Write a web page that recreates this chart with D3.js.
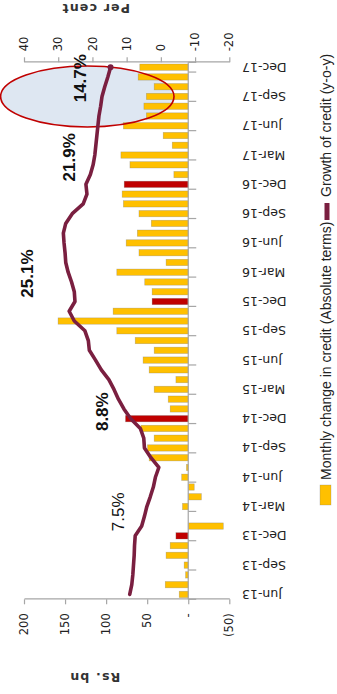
<!DOCTYPE html>
<html><head><meta charset="utf-8">
<script src="https://cdn.jsdelivr.net/npm/d3@7/dist/d3.min.js"></script>
<style>
html,body{margin:0;padding:0;background:#fff}
svg{display:block}
</style></head><body>
<svg id="chart" width="337" height="694"></svg>
<script>
// ---------- data ----------
const months = ["Jun-13","Jul-13","Aug-13","Sep-13","Oct-13","Nov-13","Dec-13",
  "Jan-14","Feb-14","Mar-14","Apr-14","May-14","Jun-14","Jul-14","Aug-14","Sep-14","Oct-14","Nov-14","Dec-14",
  "Jan-15","Feb-15","Mar-15","Apr-15","May-15","Jun-15","Jul-15","Aug-15","Sep-15","Oct-15","Nov-15","Dec-15",
  "Jan-16","Feb-16","Mar-16","Apr-16","May-16","Jun-16","Jul-16","Aug-16","Sep-16","Oct-16","Nov-16","Dec-16",
  "Jan-17","Feb-17","Mar-17","Apr-17","May-17","Jun-17","Jul-17","Aug-17","Sep-17","Oct-17","Nov-17","Dec-17"];
// Monthly change in credit (Rs. bn)
const monthlyChange = [11,28,3.3,5,27,22,15,
  -42.7,0,7,-16,-7.3,8,2.2,47.6,49.6,41.5,57.5,76.4,
  22,24.4,41.5,15,47.6,55,41.5,64.6,87,158.5,91.5,44,
  44,53,87,27,60,75.6,62,45,60,79,80.5,78,
  17.5,71,82,19.5,30.5,79,51,54,51,41.5,61,59];
// Growth of credit, y-o-y (%)
const growth = [9.1,8.5,8.2,8.0,7.8,7.7,7.5,
  5.6,4.8,4.1,3.1,2.2,1.6,0.6,2.9,4.8,5.0,6.0,8.8,
  10.8,12.4,13.7,15.2,17.4,19.1,20.9,21.2,22.2,25.3,26.8,25.1,
  25.3,26.1,27.1,27.8,28.0,28.3,28.5,27.8,25.9,22.7,21.6,21.9,
  20.6,19.8,19.3,19.0,18.7,18.4,18.1,17.6,17.2,16.4,15.5,14.7];
const highlightMonths = ["Dec-13","Dec-14","Dec-15","Dec-16"];
const leftTicks = [-50,0,50,100,150,200];
const leftTickLabels = ["(50)","-","50","100","150","200"];
const rightTicks = [-20,-10,0,10,20,30,40];
const rightTickLabels = ["-20","-10","0","10","20","30","40"];
const callouts = [
  {month:"Dec-13", value:7.5,  text:"7.5%",  bold:false, dx:24, dy:-17},
  {month:"Dec-14", value:8.8,  text:"8.8%",  bold:true,  dx:7,  dy:-29},
  {month:"Dec-15", value:25.1, text:"25.1%", bold:true,  dx:28, dy:-48},
  {month:"Dec-16", value:21.9, text:"21.9%", bold:true,  dx:27, dy:-17},
  {month:"Dec-17", value:14.7, text:"14.7%", bold:true,  dx:-11,dy:-31}
];
const legendItems = ["Monthly change in credit (Absolute terms)","Growth of credit (y-o-y)"];

// ---------- layout (chart drawn in landscape frame, then rotated) ----------
const W = 694, H = 337;
const x0 = 94.7, x1 = 631.7, yTop = 24, yBot = 229.3;
const YELLOW = "#FFC000", RED = "#C00000", MAROON = "#7A1F40", AXIS = "#A6A6A6";
const tickFont = "'DejaVu Sans', Verdana, sans-serif";
const narrowFont = "'Liberation Sans Narrow','Arial Narrow','Liberation Sans',sans-serif";

const svg = d3.select("#chart");
const g = svg.append("g").attr("transform", `translate(0,${W}) rotate(-90)`);

const x = d3.scaleBand().domain(months).range([x0, x1]).paddingInner(0.35).paddingOuter(0.175);
const yL = d3.scaleLinear().domain([-50, 200]).range([yBot, yTop]);
const yR = d3.scaleLinear().domain([-20, 40]).range([yBot, yTop]);
const bw = x.bandwidth();
const cx = m => x(m) + bw / 2;

// ellipse highlight (fill behind)
const eCx = cx("Sep-17"), eCy = yR(21.5), eRx = 30.5, eRy = 86.7;
g.append("ellipse").attr("cx", eCx).attr("cy", eCy).attr("rx", eRx).attr("ry", eRy)
  .attr("fill", "#DEE7F2");

// bars
g.append("g").selectAll("rect").data(months).join("rect")
  .attr("x", m => x(m))
  .attr("width", bw)
  .attr("y", (m, i) => yL(Math.max(0, monthlyChange[i])))
  .attr("height", (m, i) => Math.abs(yL(monthlyChange[i]) - yL(0)))
  .attr("fill", m => highlightMonths.includes(m) ? RED : YELLOW)
  .attr("stroke", "rgba(120,120,120,0.45)").attr("stroke-width", 0.6);

// ellipse outline (over bars)
g.append("ellipse").attr("cx", eCx).attr("cy", eCy).attr("rx", eRx).attr("ry", eRy)
  .attr("fill", "none").attr("stroke", RED).attr("stroke-width", 1.6);

// category axis at zero
const catY = yL(0);
const ca = g.append("g");
ca.append("line").attr("x1", x0).attr("x2", x1).attr("y1", catY).attr("y2", catY)
  .attr("stroke", AXIS).attr("stroke-width", 1.2);
const boundaries = d3.range(0, months.length + 1, 3).concat([months.length]);
ca.selectAll("line.t").data(boundaries).join("line").attr("class", "t")
  .attr("x1", b => x0 + b * x.step()).attr("x2", b => x0 + b * x.step())
  .attr("y1", catY).attr("y2", catY + 8).attr("stroke", AXIS).attr("stroke-width", 1.2);
ca.selectAll("text").data(months.filter((m, i) => i % 3 === 0)).join("text")
  .attr("transform", m => `translate(${cx(m)},242) rotate(-90)`)
  .attr("text-anchor", "end").attr("dy", "0.36em")
  .attr("font-family", tickFont).attr("font-size", 12.5).attr("fill", "#222")
  .text(m => m);

// left axis
const la = g.append("g").attr("transform", `translate(${x0},0)`)
  .call(d3.axisLeft(yL).tickValues(leftTicks).tickSize(5).tickSizeOuter(0).tickPadding(9)
    .tickFormat(v => leftTickLabels[leftTicks.indexOf(v)]));
la.select(".domain").attr("stroke", AXIS).attr("stroke-width", 1.2);
la.selectAll(".tick line").attr("stroke", AXIS).attr("stroke-width", 1.2);
la.selectAll(".tick text").attr("font-family", tickFont).attr("font-size", 11.5).attr("fill", "#222");

// right axis
const ra = g.append("g").attr("transform", `translate(${x1},0)`)
  .call(d3.axisRight(yR).tickValues(rightTicks).tickSize(5).tickSizeOuter(0).tickPadding(6)
    .tickFormat(v => rightTickLabels[rightTicks.indexOf(v)]));
ra.select(".domain").attr("stroke", AXIS).attr("stroke-width", 1.2);
ra.selectAll(".tick line").attr("stroke", AXIS).attr("stroke-width", 1.2);
ra.selectAll(".tick text").attr("font-family", tickFont).attr("font-size", 11.5).attr("fill", "#222");

// axis titles
g.append("text").attr("transform", `translate(17,${(yTop + yBot) / 2 - 32}) rotate(-90)`)
  .attr("text-anchor", "middle").attr("dy", "0.36em")
  .attr("font-family", tickFont).attr("font-weight", "bold").attr("font-size", 12.5)
  .attr("letter-spacing", 1.2).attr("fill", "#333").text("Rs. bn");
g.append("text").attr("transform", `translate(686,${(yTop + yBot) / 2 - 31}) rotate(-90)`)
  .attr("text-anchor", "middle").attr("dy", "0.36em")
  .attr("font-family", tickFont).attr("font-weight", "bold").attr("font-size", 12.5)
  .attr("letter-spacing", 1.2).attr("fill", "#333").text("Per cent");

// growth line
const line = d3.line().x((d, i) => cx(months[i])).y(d => yR(d));
g.append("path").datum(growth).attr("d", line)
  .attr("fill", "none").attr("stroke", MAROON).attr("stroke-width", 3.6)
  .attr("stroke-linejoin", "round").attr("stroke-linecap", "round");
g.append("circle").attr("cx", cx(months[months.length - 1])).attr("cy", yR(growth[growth.length - 1]))
  .attr("r", 3).attr("fill", MAROON);

// callouts
g.append("g").selectAll("text").data(callouts).join("text")
  .attr("x", d => cx(d.month) + d.dx).attr("y", d => yR(d.value) + d.dy)
  .attr("text-anchor", "middle").attr("dy", "0.36em")
  .attr("font-family", narrowFont).attr("font-size", 17)
  .attr("font-weight", d => d.bold ? "bold" : "normal").attr("fill", "#111")
  .text(d => d.text);

// legend
const lg = g.append("g").attr("font-family", narrowFont).attr("font-size", 14).attr("fill", "#222");
lg.append("rect").attr("x", 189).attr("y", 320).attr("width", 20).attr("height", 11).attr("fill", YELLOW)
  .attr("stroke", "rgba(120,120,120,0.45)").attr("stroke-width", 0.6);
lg.append("text").attr("x", 214).attr("y", 326).attr("dy", "0.36em").text(legendItems[0]);
lg.append("line").attr("x1", 474).attr("x2", 491).attr("y1", 327).attr("y2", 327)
  .attr("stroke", MAROON).attr("stroke-width", 5);
lg.append("text").attr("x", 497).attr("y", 326).attr("dy", "0.36em").text(legendItems[1]);
</script>
</body></html>
